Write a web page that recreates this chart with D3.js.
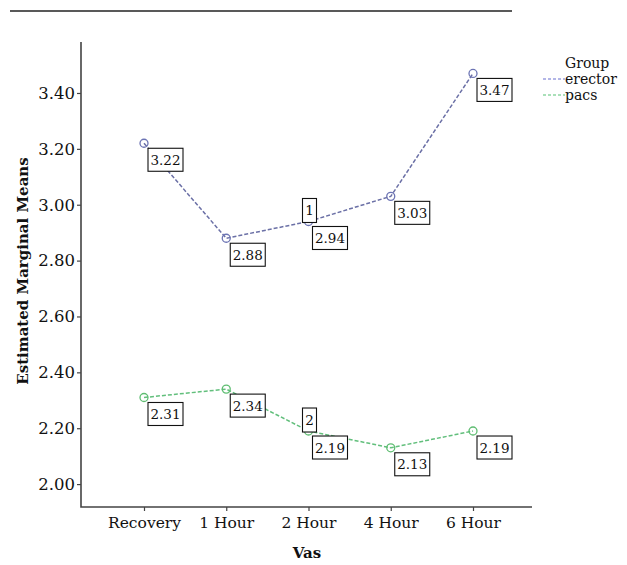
<!DOCTYPE html>
<html>
<head>
<meta charset="utf-8">
<script src="https://cdn.jsdelivr.net/npm/d3@7"></script>
<style>
  body { margin: 0; background: #fff; }
  text { font-family: "DejaVu Serif", serif; fill: #111; }
</style>
</head>
<body>
<div id="chart"></div>
<script>
// data
let categories = ["Recovery", "1 Hour", "2 Hour", "4 Hour", "6 Hour"];
let erector = [3.22, 2.88, 2.94, 3.03, 3.47];
let pacs = [2.31, 2.34, 2.19, 2.13, 2.19];
let yTicks = [2.0, 2.2, 2.4, 2.6, 2.8, 3.0, 3.2, 3.4];
let groups = ["erector", "pacs"];

let width = 627;
let height = 565;
let axisLeftX = 81;
let axisRightX = 532;
let axisTopY = 42;
let axisBottomY = 507;

let svg = d3.select("#chart")
  .append("svg")
  .attr("width", width)
  .attr("height", height);

// rule at the top of the figure
svg.append("line")
  .attr("x1", 10).attr("x2", 512)
  .attr("y1", 11).attr("y2", 11)
  .attr("stroke", "#222").attr("stroke-width", 1.4);

let x = d3.scalePoint().domain(categories).range([144, 473]);
let y = d3.scaleLinear().domain([1.918, 3.5825]).range([axisBottomY, axisTopY]);

// axes
let yAxis = svg.append("g")
  .attr("transform", "translate(" + axisLeftX + ",0)")
  .call(d3.axisLeft(y).tickValues(yTicks).tickFormat(d3.format(".2f")).tickSize(4).tickPadding(2));
yAxis.select(".domain").remove();
yAxis.selectAll("line").attr("stroke", "#444").attr("stroke-width", 1.2);
yAxis.selectAll("text").style("font-size", "16.5px").style("font-family", "DejaVu Serif").attr("fill", "#111");

let xAxis = svg.append("g")
  .attr("transform", "translate(0," + axisBottomY + ")")
  .call(d3.axisBottom(x).tickSize(4).tickPadding(6));
xAxis.select(".domain").remove();
xAxis.selectAll("line").attr("stroke", "#444").attr("stroke-width", 1.2);
xAxis.selectAll("text").style("font-size", "15.5px").style("font-family", "DejaVu Serif").attr("fill", "#111");

svg.append("path")
  .attr("d", "M" + axisLeftX + "," + axisTopY + "V" + axisBottomY + "H" + axisRightX)
  .attr("fill", "none").attr("stroke", "#444").attr("stroke-width", 1.6);

// axis titles
svg.append("text")
  .attr("transform", "translate(28," + 271 + ")rotate(-90)")
  .attr("text-anchor", "middle")
  .style("font-size", "15px").style("font-weight", "bold")
  .text("Estimated Marginal Means");

svg.append("text")
  .attr("x", 307).attr("y", 558)
  .attr("text-anchor", "middle")
  .style("font-size", "15px").style("font-weight", "bold")
  .text("Vas");

let lineColor = { erector: "#6b70a6", pacs: "#62bf7c" };
let pointColor = { erector: "#6c74b4", pacs: "#5fbd72" };
let legendColor = { erector: "#9a9fe0", pacs: "#8fd6a2" };
let seriesData = { erector: erector, pacs: pacs };

let line = d3.line()
  .x((d, i) => x(categories[i]))
  .y(d => y(d));

groups.forEach(function(g) {
  let vals = seriesData[g];
  svg.append("path")
    .datum(vals)
    .attr("d", line)
    .attr("fill", "none")
    .attr("stroke", lineColor[g])
    .attr("stroke-width", 1.5)
    .attr("stroke-dasharray", "4,2");

  svg.selectAll(".pt-" + g)
    .data(vals)
    .enter().append("circle")
    .attr("cx", (d, i) => x(categories[i]))
    .attr("cy", d => y(d))
    .attr("r", 4)
    .attr("fill", "none")
    .attr("stroke", pointColor[g])
    .attr("stroke-width", 1.3);

  // value label boxes
  let lab = svg.selectAll(".lab-" + g)
    .data(vals)
    .enter().append("g")
    .attr("transform", (d, i) => "translate(" + (x(categories[i]) + 4) + "," + (y(d) + 5) + ")");
  lab.append("rect")
    .attr("width", 35).attr("height", 23)
    .attr("fill", "#fff").attr("stroke", "#111").attr("stroke-width", 1.1);
  lab.append("text")
    .attr("x", 17.5).attr("y", 16.5)
    .attr("text-anchor", "middle")
    .style("font-size", "13.5px")
    .text(d => d.toFixed(2));
});

// line identifiers at 2 Hour
let lineIds = [["1", erector[2]], ["2", pacs[2]]];
let ids = svg.selectAll(".lineid")
  .data(lineIds)
  .enter().append("g")
  .attr("transform", d => "translate(" + (x(categories[2]) - 6) + "," + (y(d[1]) - 23) + ")");
ids.append("rect")
  .attr("width", 14).attr("height", 24)
  .attr("fill", "#fff").attr("stroke", "#111").attr("stroke-width", 1.1);
ids.append("text")
  .attr("x", 7).attr("y", 17)
  .attr("text-anchor", "middle")
  .style("font-size", "13.5px")
  .text(d => d[0]);

// legend
let legend = svg.append("g").attr("transform", "translate(565,0)");
legend.append("text").attr("x", 0).attr("y", 68).style("font-size", "14px").text("Group");
groups.forEach(function(g, i) {
  let ly = 79 + i * 16;
  legend.append("line")
    .attr("x1", -22).attr("x2", 0)
    .attr("y1", ly).attr("y2", ly)
    .attr("stroke", legendColor[g]).attr("stroke-width", 1.5)
    .attr("stroke-dasharray", "3,2");
  legend.append("text").attr("x", 0).attr("y", ly + 5).style("font-size", "14px").text(g);
});
</script>
</body>
</html>
